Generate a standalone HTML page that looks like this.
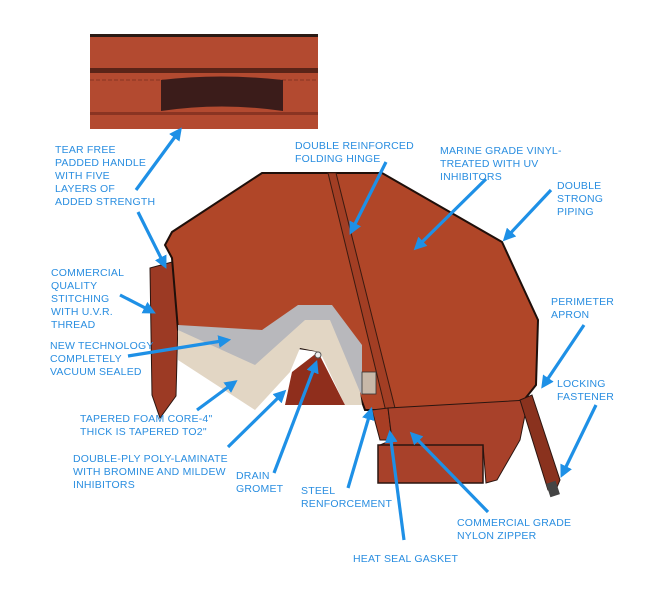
<!DOCTYPE html>
<html><head><style>
body{margin:0;background:#fff;}
svg{display:block;}
text{font-family:"Liberation Sans",sans-serif;font-size:10.5px;fill:#2a8ee0;letter-spacing:0.2px;}
</style></head><body>
<svg width="671" height="597" viewBox="0 0 671 597" xmlns="http://www.w3.org/2000/svg">
<defs>
<marker id="a" markerWidth="4" markerHeight="4" refX="3" refY="2" orient="auto" markerUnits="strokeWidth">
<path d="M0,0 L4,2 L0,4 z" fill="#1e90e6"/></marker>
</defs>
<!-- inset handle -->
<rect x="90" y="34" width="228" height="95" fill="#b34a30"/>
<rect x="90" y="34" width="228" height="3" fill="#2a1a14"/>
<rect x="90" y="68" width="228" height="5" fill="#5a2418"/>
<line x1="90" y1="80" x2="318" y2="80" stroke="#7a2e1e" stroke-dasharray="4 2" stroke-width="0.8"/>
<rect x="90" y="112" width="228" height="3" fill="#8a3422"/>
<path d="M161,80 Q220,73 283,80 L283,111 Q222,102 161,111 Z" fill="#3b1c1a"/>
<!-- left apron -->
<polygon points="150,268 172,262 178,320 176,396 160,418 152,395" fill="#9c3a24" stroke="#2a1510" stroke-width="1"/>
<!-- main cover top -->
<polygon points="262,173 382,173 502,242 538,320 536,385 520,405 410,410 365,410 345,355 178,330 172,258 165,245 172,232" fill="#b04628" stroke="#1f0f0a" stroke-width="2"/>
<!-- hinge -->
<polygon points="328,173 336,173 398,420 388,420" fill="#a23e24" stroke="#3a1a10" stroke-width="1"/>
<!-- foam cut -->
<polygon points="178,325 262,330 298,305 332,305 362,345 362,395 340,362 325,330 305,330 255,370 178,345" fill="#b8b8bc"/>
<polygon points="178,330 255,365 305,320 330,320 360,392 362,405 345,405 320,352 300,348 290,372 255,410 178,360" fill="#e2d6c4"/>
<polygon points="292,372 318,352 345,405 285,405" fill="#8f2e1c"/>
<circle cx="318" cy="355" r="3" fill="#eee" stroke="#555"/>
<!-- steel & zipper area -->
<rect x="362" y="372" width="14" height="22" fill="#c8b8a8" stroke="#333" stroke-width="0.8"/>
<polygon points="372,410 388,408 392,440 380,440" fill="#a83e24" stroke="#2a1510"/>
<!-- lower apron -->
<polygon points="388,408 528,400 520,440 497,480 486,483 483,445 380,445 392,440" fill="#a8412a" stroke="#2a1510"/>
<rect x="378" y="445" width="105" height="38" fill="#a8412a" stroke="#2a1510" stroke-width="1.5"/>
<!-- locking strap -->
<polygon points="520,400 532,395 560,480 555,492 548,490" fill="#8a321e" stroke="#2a1510"/>
<rect x="548" y="482" width="10" height="14" fill="#444" transform="rotate(-18 553 489)"/>
<!-- arrows -->
<g stroke="#1e90e6" stroke-width="3.2" fill="none" marker-end="url(#a)">
<line x1="136" y1="190" x2="180" y2="130"/>
<line x1="138" y1="212" x2="165" y2="266"/>
<line x1="386" y1="162" x2="351" y2="232"/>
<line x1="486" y1="179" x2="416" y2="248"/>
<line x1="551" y1="190" x2="505" y2="239"/>
<line x1="120" y1="295" x2="153" y2="312"/>
<line x1="128" y1="356" x2="228" y2="340"/>
<line x1="584" y1="325" x2="543" y2="386"/>
<line x1="596" y1="405" x2="562" y2="475"/>
<line x1="197" y1="410" x2="235" y2="382"/>
<line x1="228" y1="447" x2="284" y2="392"/>
<line x1="274" y1="473" x2="316" y2="363"/>
<line x1="348" y1="488" x2="371" y2="410"/>
<line x1="404" y1="540" x2="390" y2="433"/>
<line x1="488" y1="512" x2="412" y2="434"/>
</g>
<!-- labels -->
<text x="55" y="153">TEAR FREE</text>
<text x="55" y="166">PADDED HANDLE</text>
<text x="55" y="179">WITH FIVE</text>
<text x="55" y="192">LAYERS OF</text>
<text x="55" y="205">ADDED STRENGTH</text>
<text x="295" y="149">DOUBLE REINFORCED</text>
<text x="295" y="162">FOLDING HINGE</text>
<text x="440" y="154">MARINE GRADE VINYL-</text>
<text x="440" y="167">TREATED WITH UV</text>
<text x="440" y="180">INHIBITORS</text>
<text x="557" y="189">DOUBLE</text>
<text x="557" y="202">STRONG</text>
<text x="557" y="215">PIPING</text>
<text x="51" y="276">COMMERCIAL</text>
<text x="51" y="289">QUALITY</text>
<text x="51" y="302">STITCHING</text>
<text x="51" y="315">WITH U.V.R.</text>
<text x="51" y="328">THREAD</text>
<text x="50" y="349">NEW TECHNOLOGY</text>
<text x="50" y="362">COMPLETELY</text>
<text x="50" y="375">VACUUM SEALED</text>
<text x="551" y="305">PERIMETER</text>
<text x="551" y="318">APRON</text>
<text x="557" y="387">LOCKING</text>
<text x="557" y="400">FASTENER</text>
<text x="80" y="422">TAPERED FOAM CORE-4"</text>
<text x="80" y="435">THICK IS TAPERED TO2"</text>
<text x="73" y="462">DOUBLE-PLY POLY-LAMINATE</text>
<text x="73" y="475">WITH BROMINE AND MILDEW</text>
<text x="73" y="488">INHIBITORS</text>
<text x="236" y="479">DRAIN</text>
<text x="236" y="492">GROMET</text>
<text x="301" y="494">STEEL</text>
<text x="301" y="507">RENFORCEMENT</text>
<text x="457" y="526">COMMERCIAL GRADE</text>
<text x="457" y="539">NYLON ZIPPER</text>
<text x="353" y="562">HEAT SEAL GASKET</text>
</svg>
</body></html>
